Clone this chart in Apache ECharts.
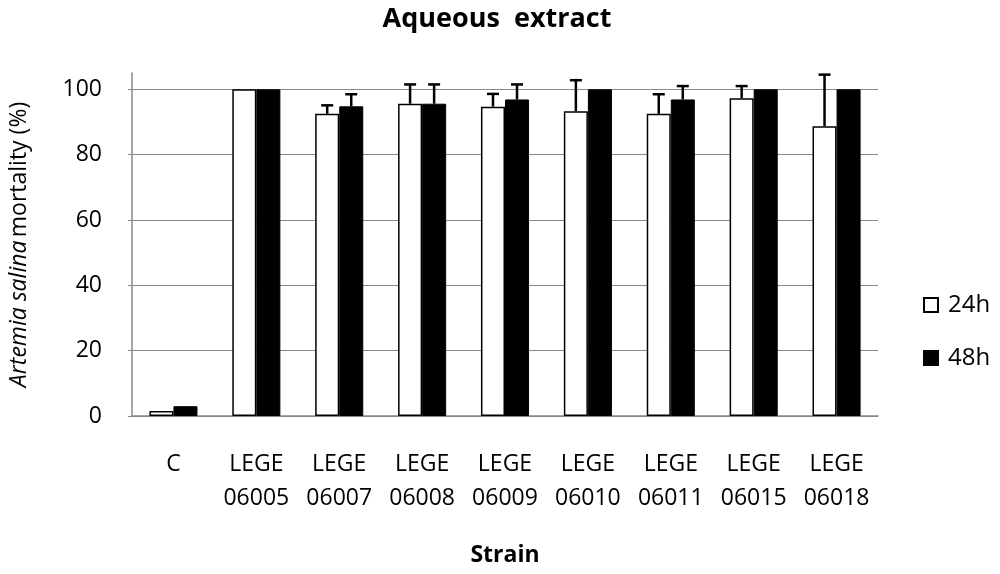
<!DOCTYPE html>
<html>
<head>
<meta charset="utf-8">
<script src="https://cdn.jsdelivr.net/npm/echarts@6/dist/echarts.min.js"></script>
<style>
  html, body { margin: 0; padding: 0; background: #fff; }
  #chart { width: 1000px; height: 574px; }
</style>
</head>
<body>
<div id="chart"></div>
<script>
// data
var categories = ['C', 'LEGE\n06005', 'LEGE\n06007', 'LEGE\n06008', 'LEGE\n06009',
                  'LEGE\n06010', 'LEGE\n06011', 'LEGE\n06015', 'LEGE\n06018'];
var mort24 = [1.5, 100, 92.5, 95.6, 94.7, 93.3, 92.5, 97.3, 88.7];
var mort48 = [3.0, 100, 94.8, 95.6, 96.9, 100, 96.9, 100, 100];
var err24 = [0, 0, 2.6, 5.9, 3.9, 9.5, 6.0, 3.7, 15.8];
var err48 = [0, 0, 3.7, 5.9, 4.6, 0, 4.1, 0, 0];
var yTicks = [0, 20, 40, 60, 80, 100];

var catGap = 0.42;
var fontFam = '"Open Sans", sans-serif';

// upper whisker with cap, placed over the matching bar
function errorBar(values, errs, side) {
  return function (params, api) {
    var i = api.value(0);
    var v = values[i], e = errs[i];
    if (!e) return null;
    var band = api.size([1, 0])[0];
    var bw = band * (1 - catGap) / 2;
    var base = api.coord([i, v]);
    var top = api.coord([i, v + e]);
    var x = base[0] + side * bw / 2;
    var cap = 6;
    var st = { stroke: '#000', lineWidth: 2.5 };
    return {
      type: 'group',
      children: [
        { type: 'line', shape: { x1: x, y1: base[1], x2: x, y2: top[1] }, style: st },
        { type: 'line', shape: { x1: x - cap, y1: top[1], x2: x + cap, y2: top[1] }, style: st }
      ]
    };
  };
}

var chart = echarts.init(document.getElementById('chart'));
var option = {
  animation: false,
  title: {
    text: 'Aqueous  extract',
    left: 492,
    textAlign: 'center',
    top: 1,
    textStyle: { fontFamily: fontFam, fontSize: 27, fontWeight: 'bold', color: '#000' }
  },
  legend: {
    orient: 'vertical',
    left: 918,
    top: 288,
    icon: 'rect',
    itemWidth: 14,
    itemHeight: 14,
    itemGap: 29,
    data: ['24h', '48h'],
    textStyle: { fontFamily: fontFam, fontSize: 24, color: '#000', padding: [0, 0, 0, 5] }
  },
  grid: { left: 131, right: 122, top: 73, bottom: 158 },
  xAxis: {
    type: 'category',
    data: categories,
    name: 'Strain',
    nameLocation: 'middle',
    nameGap: 128,
    nameTextStyle: { fontFamily: fontFam, fontSize: 23, fontWeight: 'bold', color: '#000' },
    axisLine: { lineStyle: { color: '#888', width: 1.5 } },
    axisTick: { show: false },
    axisLabel: {
      fontFamily: fontFam, fontSize: 23, color: '#000',
      lineHeight: 34, margin: 31, verticalAlign: 'top', interval: 0
    }
  },
  yAxis: {
    type: 'value',
    min: 0,
    max: 105,
    interval: 20,
    name: '{i|Artemia salina} {n|mortality (%)}',
    nameLocation: 'middle',
    nameGap: 101,
    nameRotate: 90,
    nameTextStyle: {
      rich: {
        i: { fontFamily: fontFam, fontSize: 23, fontStyle: 'italic', color: '#000' },
        n: { fontFamily: fontFam, fontSize: 23, color: '#000' }
      }
    },
    axisLine: { show: true, lineStyle: { color: '#888', width: 1.5 } },
    axisTick: { show: true, length: 4, lineStyle: { color: '#888' } },
    axisLabel: {
      fontFamily: fontFam, fontSize: 23, color: '#000', margin: 30,
      showMaxLabel: false,
      formatter: function (v) { return yTicks.indexOf(v) >= 0 ? v : ''; }
    },
    splitLine: { show: true, showMaxLine: false, lineStyle: { color: '#888', width: 1 } }
  },
  series: [
    {
      name: '24h',
      type: 'bar',
      data: mort24,
      barGap: 0,
      barCategoryGap: (catGap * 100) + '%',
      itemStyle: { color: '#fff', borderColor: '#000', borderWidth: 1.5 }
    },
    {
      name: '48h',
      type: 'bar',
      data: mort48,
      itemStyle: { color: '#000', borderColor: '#000', borderWidth: 1 }
    },
    {
      type: 'custom',
      renderItem: errorBar(mort24, err24, -1),
      data: categories.map(function (c, i) { return [i]; }),
      encode: { x: 0 },
      z: 5
    },
    {
      type: 'custom',
      renderItem: errorBar(mort48, err48, 1),
      data: categories.map(function (c, i) { return [i]; }),
      encode: { x: 0 },
      z: 5
    }
  ]
};
chart.setOption(option);
</script>
</body>
</html>
